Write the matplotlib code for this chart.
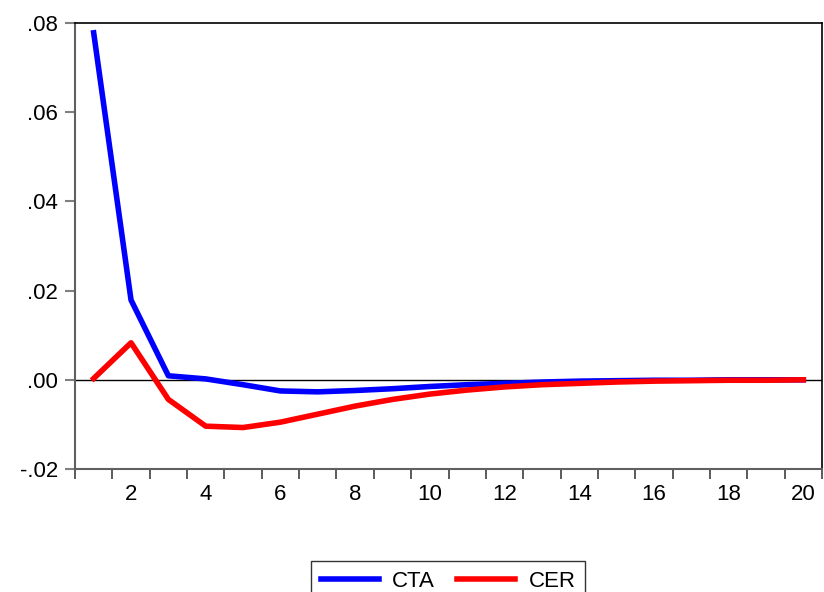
import matplotlib
matplotlib.use('Agg')
import matplotlib.pyplot as plt
import numpy as np

plt.rcParams['font.family'] = ['Liberation Sans', 'DejaVu Sans']

periods = np.arange(1, 21)
cta = [0.0778, 0.0179, 0.0009, 0.0002, -0.0011, -0.0025, -0.0027, -0.0024, -0.0020, -0.0015,
       -0.0011, -0.0008, -0.0005, -0.0003, -0.0002, -0.0001, -0.0001, 0.0, 0.0, 0.0]
cer = [0.0003, 0.0083, -0.0044, -0.0104, -0.0107, -0.0095, -0.0077, -0.0059, -0.0044, -0.0032,
       -0.0023, -0.0016, -0.0011, -0.0008, -0.0005, -0.0003, -0.0002, -0.0001, -0.0001, 0.0]
y_ticks = [-0.02, 0.0, 0.02, 0.04, 0.06, 0.08]
y_labels = ['-.02', '.00', '.02', '.04', '.06', '.08']

fig = plt.figure(figsize=(8.24, 5.92), dpi=100)
ax = fig.add_axes([75/824, 1 - 469/592, 747/824, 446/592])

ax.axhline(0, color='black', lw=1, zorder=1)
ax.plot(periods, cta, color='#0000ff', lw=4, label='CTA', zorder=3)
ax.plot(periods, cer, color='#ff0000', lw=4, label='CER', zorder=3)

ax.set_xlim(0.5, 20.5)
ax.set_ylim(-0.02, 0.08)
ax.set_yticks(y_ticks)
ax.set_yticklabels(y_labels)
ax.set_xticks(np.arange(2, 21, 2))
ax.set_xticks(np.arange(0.5, 21, 1), minor=True)
ax.tick_params(axis='x', which='major', length=0, labelsize=16, pad=11)
ax.tick_params(axis='x', which='minor', length=7, color='#404040', width=1.2, direction='out')
ax.tick_params(axis='y', which='major', length=7, color='#808080', width=1.5, labelsize=16, pad=5)

for s in ['left', 'bottom']:
    ax.spines[s].set_color('#606060')
    ax.spines[s].set_linewidth(1.5)
for s in ['top', 'right']:
    ax.spines[s].set_color('black')
    ax.spines[s].set_linewidth(1.2)

leg = fig.legend(loc='lower center', bbox_to_anchor=(0.544, -0.035), ncol=2, fontsize=16,
                 frameon=True, fancybox=False, edgecolor='black', handlelength=2.6,
                 columnspacing=1.0, borderpad=0.45, handletextpad=0.6)
leg.get_frame().set_linewidth(1.0)

fig.savefig('out.png', dpi=100)
